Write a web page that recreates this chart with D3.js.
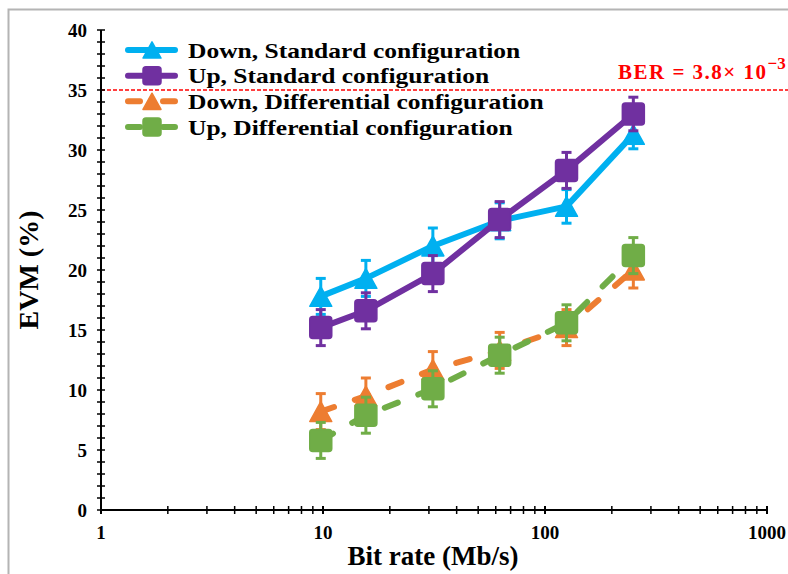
<!DOCTYPE html>
<html><head><meta charset="utf-8">
<script src="https://cdn.jsdelivr.net/npm/d3@7"></script>
<style>body{margin:0;background:#fff}svg{display:block}</style>
</head><body>
<svg id="c" width="788" height="574"></svg>
<script>
const bitRates = [9.77, 15.6, 31.25, 62.5, 125, 250];
const downStd = [17.8, 19.3, 22.0, 24.1, 25.3, 31.3];
const downStdErr = [1.5, 1.5, 1.5, 1.5, 1.4, 1.2];
const upStd = [15.2, 16.6, 19.7, 24.2, 28.3, 33.0];
const upStdErr = [1.5, 1.5, 1.5, 1.5, 1.5, 1.4];
const downDiff = [8.2, 9.5, 11.7, 13.3, 15.2, 20.0];
const downDiffErr = [1.5, 1.5, 1.5, 1.5, 1.5, 1.5];
const upDiff = [5.8, 7.9, 10.1, 12.9, 15.6, 21.2];
const upDiffErr = [1.5, 1.5, 1.5, 1.5, 1.5, 1.5];
const seriesNames = ["Down, Standard configuration", "Up, Standard configuration", "Down, Differential configuration", "Up, Differential configuration"];
const xTicks = [1, 10, 100, 1000];
const yTicks = [0, 5, 10, 15, 20, 25, 30, 35, 40];
const berLevel = 35;

const series = [
  {name: seriesNames[0], vals: downStd, err: downStdErr, color: "#00b0f0", marker: "tri", dashed: false},
  {name: seriesNames[1], vals: upStd, err: upStdErr, color: "#7030a0", marker: "sq", dashed: false},
  {name: seriesNames[2], vals: downDiff, err: downDiffErr, color: "#ed7d31", marker: "tri", dashed: true},
  {name: seriesNames[3], vals: upDiff, err: upDiffErr, color: "#70ad47", marker: "sq", dashed: true}
];

const svg = d3.select("#c");
const FONT = "'Liberation Serif','Times New Roman',serif";
const x = d3.scaleLog().domain([1, 1000]).range([101, 767]);
const y = d3.scaleLinear().domain([0, 40]).range([510, 30]);

// outer frame
svg.append("rect").attr("x", 8.5).attr("y", 9.5).attr("width", 820).attr("height", 620)
  .attr("fill", "none").attr("stroke", "#b4b4b4").attr("stroke-width", 2);

// BER line
svg.append("line").attr("x1", x(1)).attr("x2", 788).attr("y1", y(berLevel)).attr("y2", y(berLevel))
  .attr("stroke", "#ff0000").attr("stroke-width", 1.5).attr("stroke-dasharray", "4,2");
const ber = svg.append("text").attr("y", 79).attr("fill", "#ff0000")
  .style("font-family", FONT).style("font-weight", "bold").style("font-size", "21px");
ber.append("tspan").attr("x", 618).attr("textLength", 148).attr("lengthAdjust", "spacing").text("BER = 3.8× 10");
ber.append("tspan").attr("dy", -10).style("font-size", "17px").text("−3");

// axes
const yAxis = svg.append("g");
yAxis.append("line").attr("x1", x(1)).attr("x2", x(1)).attr("y1", y(0)).attr("y2", y(40)).attr("stroke", "#000").attr("stroke-width", 2);
yAxis.selectAll("line.minor").data(d3.range(0, 41)).join("line").attr("class", "minor")
  .attr("x1", x(1) - 4).attr("x2", x(1) + 4).attr("y1", d => y(d)).attr("y2", d => y(d))
  .attr("stroke", "#000").attr("stroke-width", 1.5);
yAxis.selectAll("text").data(yTicks).join("text")
  .attr("x", 87).attr("y", d => y(d)).attr("dy", "0.35em").attr("text-anchor", "end")
  .style("font-family", FONT).style("font-weight", "bold").style("font-size", "19px").text(d => d);

const xAxis = svg.append("g");
xAxis.append("line").attr("x1", x(1)).attr("x2", x(1000)).attr("y1", y(0)).attr("y2", y(0)).attr("stroke", "#000").attr("stroke-width", 2);
const minorX = [];
[1, 10, 100].forEach(b => { for (let k = 1; k <= 9; k++) minorX.push(b * k); });
minorX.push(1000);
xAxis.selectAll("line.t").data(minorX).join("line").attr("class", "t")
  .attr("x1", d => x(d)).attr("x2", d => x(d)).attr("y1", y(0) - 4).attr("y2", y(0) + 4)
  .attr("stroke", "#000").attr("stroke-width", d => xTicks.includes(d) ? 2 : 1.5);
xAxis.selectAll("text").data(xTicks).join("text")
  .attr("x", d => x(d)).attr("y", 539).attr("text-anchor", "middle")
  .style("font-family", FONT).style("font-weight", "bold").style("font-size", "19px").text(d => d);

svg.append("text").attr("x", 433).attr("y", 565).attr("text-anchor", "middle")
  .style("font-family", FONT).style("font-weight", "bold").style("font-size", "27px").text("Bit rate (Mb/s)");
svg.append("text").attr("transform", "translate(38,270) rotate(-90)").attr("text-anchor", "middle")
  .style("font-family", FONT).style("font-weight", "bold").style("font-size", "28px").text("EVM (%)");

// markers
function markerPath(type, s) {
  if (type === "sq") {
    const h = s / 2, r = 3;
    return `M${-h + r},${-h}H${h - r}Q${h},${-h} ${h},${-h + r}V${h - r}Q${h},${h} ${h - r},${h}H${-h + r}Q${-h},${h} ${-h},${h - r}V${-h + r}Q${-h},${-h} ${-h + r},${-h}Z`;
  }
  const w = s / 2, hh = s * 0.45;
  return `M0,${-hh}L${w},${hh}L${-w},${hh}Z`;
}

const line = d3.line().x(d => x(d[0])).y(d => y(d[1]));
series.forEach(s => {
  const g = svg.append("g");
  const pts = bitRates.map((b, i) => [b, s.vals[i], s.err[i]]);
  g.append("path").attr("d", line(pts)).attr("fill", "none").attr("stroke", s.color)
    .attr("stroke-width", 6).attr("stroke-linecap", "round").attr("stroke-linejoin", "round")
    .attr("stroke-dasharray", s.dashed ? "14,22" : null);
  // error bars
  const eb = g.selectAll("g.eb").data(pts).join("g").attr("class", "eb");
  eb.append("line").attr("x1", d => x(d[0])).attr("x2", d => x(d[0]))
    .attr("y1", d => y(d[1] - d[2])).attr("y2", d => y(d[1] + d[2])).attr("stroke", s.color).attr("stroke-width", 3);
  eb.append("line").attr("x1", d => x(d[0]) - 5).attr("x2", d => x(d[0]) + 5)
    .attr("y1", d => y(d[1] + d[2])).attr("y2", d => y(d[1] + d[2])).attr("stroke", s.color).attr("stroke-width", 3);
  eb.append("line").attr("x1", d => x(d[0]) - 5).attr("x2", d => x(d[0]) + 5)
    .attr("y1", d => y(d[1] - d[2])).attr("y2", d => y(d[1] - d[2])).attr("stroke", s.color).attr("stroke-width", 3);
  g.selectAll("path.m").data(pts).join("path").attr("class", "m")
    .attr("transform", d => `translate(${x(d[0])},${y(d[1])})`)
    .attr("d", markerPath(s.marker, 22))
    .attr("fill", s.color).attr("stroke", s.color).attr("stroke-width", 1.5).attr("stroke-linejoin", "round");
});

// legend
const legY = [50, 75.7, 101.3, 127];
const leg = svg.append("g");
series.forEach((s, i) => {
  const gy = legY[i];
  leg.append("line").attr("x1", 128).attr("x2", 175).attr("y1", gy).attr("y2", gy)
    .attr("stroke", s.color).attr("stroke-width", 6).attr("stroke-linecap", "round")
    .attr("stroke-dasharray", s.dashed ? "12,23" : null);
  leg.append("path").attr("transform", `translate(152,${gy})`).attr("d", markerPath(s.marker, 18))
    .attr("fill", s.color).attr("stroke", s.color).attr("stroke-width", 1.5).attr("stroke-linejoin", "round");
  const t = leg.append("text").attr("x", 188).attr("y", gy + 7.5)
    .style("font-family", FONT).style("font-weight", "bold").style("font-size", "22px").text(s.name);
  const w = t.node().getComputedTextLength();
  t.attr("textLength", w * 25.5 / 22).attr("lengthAdjust", "spacingAndGlyphs");
});
</script>
</body></html>
